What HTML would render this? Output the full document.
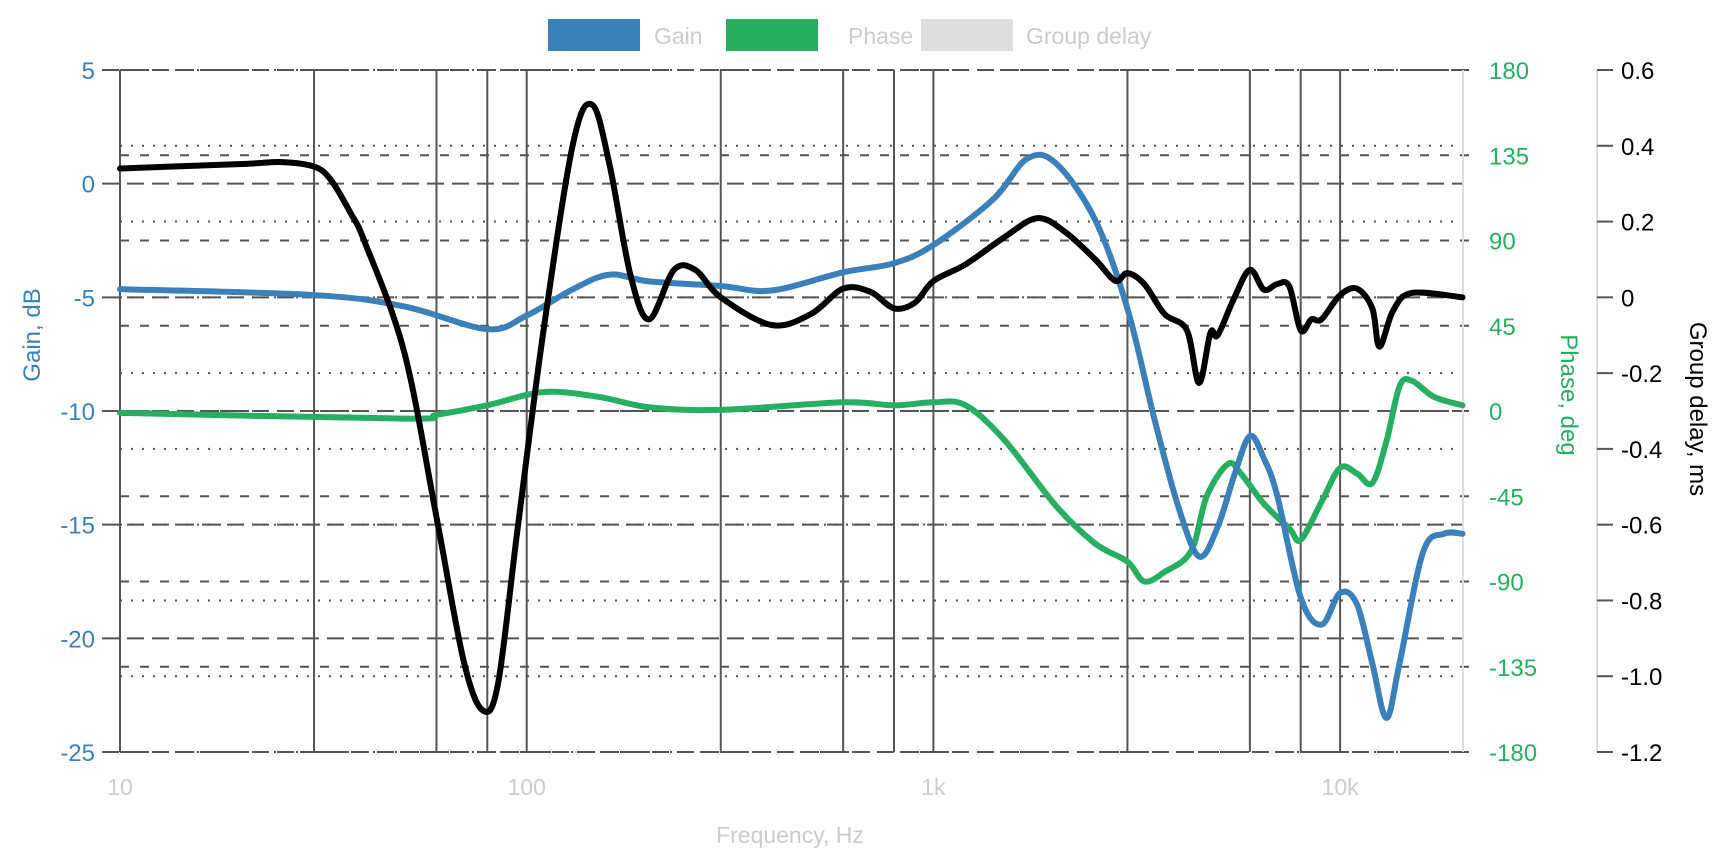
<!DOCTYPE html>
<html><head><meta charset="utf-8"><style>
html,body{margin:0;padding:0;background:#fff;}
svg{display:block;font-family:"Liberation Sans",Arial,sans-serif;}
</style></head><body>
<svg id="chart" width="1729" height="864" viewBox="0 0 1729 864"></svg>
<script>
const freqGain=[10,30,50,80,100,130,160,200,300,400,600,800,1000,1400,1700,2000,2500,3000,3500,4000,4500,5000,5500,6000,6500,7000,8000,9000,10000,11000,12000,13000,14000,16000,18000,20000];
const gainDb=[-4.64,-4.9,-5.4,-6.4,-5.8,-4.64,-4.0,-4.3,-4.5,-4.7,-3.9,-3.5,-2.7,-0.7,1.1,0.9,-1.6,-5.5,-10.4,-14.2,-16.4,-15.1,-12.8,-11.1,-12.1,-13.7,-18.2,-19.4,-18.0,-18.5,-21.1,-23.5,-21.1,-16.2,-15.4,-15.4];
const freqPhase=[10,50,60,80,110,150,200,300,600,800,1000,1200,1500,2000,2500,3000,3300,3700,4300,4700,5300,5700,6500,7500,8000,9000,10000,11000,12000,13000,14000,15000,17000,20000];
const phaseDeg=[-1,-4,-2,3,10,7.5,2,0.6,4.6,3,4.6,3,-15.7,-50,-70,-79.5,-90,-85,-74,-45,-28,-33,-49,-62,-68,-48,-30,-33,-38,-16,13,16,7.5,3];
const freqGd=[10,20,25,30,33,37,40,50,60,70,78,85,95,110,130,145,160,180,200,230,260,300,400,500,600,700,800,900,1000,1200,1500,1800,2100,2500,2800,3000,3300,3700,4200,4500,4800,5000,5500,6000,6500,7000,7500,8000,8500,9000,10000,11000,12000,12500,13500,15000,20000];
const gdMs=[0.34,0.352,0.357,0.345,0.31,0.22,0.145,-0.145,-0.58,-0.96,-1.09,-1.02,-0.61,-0.087,0.406,0.508,0.348,0.058,-0.058,0.072,0.072,0,-0.073,-0.044,0.023,0.0145,-0.029,-0.0145,0.043,0.087,0.16,0.209,0.174,0.10,0.0435,0.064,0.035,-0.044,-0.087,-0.226,-0.093,-0.1,0,0.0726,0.02,0.035,0.029,-0.087,-0.058,-0.058,0.006,0.023,-0.029,-0.13,-0.035,0.0116,0];
const gainTicks=[5,0,-5,-10,-15,-20,-25];
const phaseTicks=[180,135,90,45,0,-45,-90,-135,-180];
const gdTicks=[0.6,0.4,0.2,0,-0.2,-0.4,-0.6,-0.8,-1.0,-1.2];
const gridFreqs=[10,30,60,80,100,300,600,800,1000,3000,6000,8000,10000];
const xLabels=[[10,"10"],[100,"100"],[1000,"1k"],[10000,"10k"]];

const X0=120,DEC=406.7,Y0=70,Y1=752,XR=1463;
const x=f=>X0+Math.log10(f/10)*DEC;
const yG=v=>Y0+(5-v)/30*(Y1-Y0);
const yP=v=>Y0+(180-v)/360*(Y1-Y0);
const yD=v=>Y0+(0.6-v)/1.8*(Y1-Y0);
const svg=document.getElementById('chart');
const NS='http://www.w3.org/2000/svg';
function mk(tag,attrs,parent){const e=document.createElementNS(NS,tag);for(const k in attrs)e.setAttribute(k,attrs[k]);(parent||svg).appendChild(e);return e;}
function txt(s,attrs,name){const t=mk('text',attrs);t.textContent=s;return t;}

const grid=mk('g',{});


gridFreqs.forEach(f=>{const l=mk('line',{x1:x(f),x2:x(f),y1:Y0,y2:Y1,stroke:'#555','stroke-width':2},grid);

});
gdTicks.forEach(v=>{const l=mk('line',{x1:X0,x2:XR,y1:yD(v),y2:yD(v),stroke:'#555','stroke-width':2,'stroke-dasharray':'2 9'},grid);

});
phaseTicks.forEach(v=>{const l=mk('line',{x1:X0,x2:XR+17,y1:yP(v),y2:yP(v),stroke:'#555','stroke-width':2,'stroke-dasharray':'9 11'},grid);

});
gainTicks.forEach(v=>{const l=mk('line',{x1:X0-18,x2:XR,y1:yG(v),y2:yG(v),stroke:'#555','stroke-width':2,'stroke-dasharray':'17 8'},grid);

});
const ra=mk('line',{x1:XR,x2:XR,y1:Y0,y2:Y1,stroke:'#ddd','stroke-width':2});


const ga=mk('line',{x1:1597,x2:1597,y1:Y0,y2:Y1,stroke:'#ddd','stroke-width':2});


gdTicks.forEach(v=>{const l=mk('line',{x1:1597,x2:1613,y1:yD(v),y2:yD(v),stroke:'#555','stroke-width':2});

});

gainTicks.forEach(v=>txt(String(v),{x:95,y:yG(v)+9,'text-anchor':'end','font-size':24,fill:'#3a80ba'},'gain-tick-label'));
phaseTicks.forEach(v=>txt(String(v),{x:1489,y:yP(v)+9,'font-size':24,fill:'#27ae60'},'phase-tick-label'));
gdTicks.forEach(v=>txt(v===0?'0':v.toFixed(1),{x:1621,y:yD(v)+9,'font-size':24,fill:'#000'},'delay-tick-label'));
xLabels.forEach(([f,s])=>txt(s,{x:x(f),y:795,'text-anchor':'middle','font-size':23,fill:'#ccc'},'x-tick-label'));
txt('Frequency, Hz',{x:790,y:843,'text-anchor':'middle','font-size':23,fill:'#ccc'},'x-axis-title');
txt('Gain, dB',{x:0,y:0,'text-anchor':'middle','font-size':24,fill:'#3a80ba',transform:'translate(40,335) rotate(-90)'},'gain-axis-title');
txt('Phase, deg',{x:0,y:0,'text-anchor':'middle','font-size':24,fill:'#27ae60',transform:'translate(1561,395) rotate(90)'},'phase-axis-title');
txt('Group delay, ms',{x:0,y:0,'text-anchor':'middle','font-size':24,fill:'#000',transform:'translate(1690,409) rotate(90)'},'delay-axis-title');

function path(fs,vs,yf,color,name){
  const p=fs.map((f,i)=>[x(f),yf(vs[i])]);
  let d='M'+p[0][0]+','+p[0][1];
  for(let i=0;i<p.length-1;i++){
    const a=p[Math.max(0,i-1)],b=p[i],c=p[i+1],e=p[Math.min(p.length-1,i+2)];
    const c1=[b[0]+(c[0]-a[0])/6,b[1]+(c[1]-a[1])/6],c2=[c[0]-(e[0]-b[0])/6,c[1]-(e[1]-b[1])/6];
    d+=` C${c1[0]},${c1[1]} ${c2[0]},${c2[1]} ${c[0]},${c[1]}`;
  }
  const el=mk('path',{d:d,fill:'none',stroke:color,'stroke-width':6,'stroke-linejoin':'round','stroke-linecap':'round'});
  
  
}
path(freqPhase,phaseDeg,yP,'#27ae60','phase-line');
path(freqGain,gainDb,yG,'#3a80ba','gain-line');
path(freqGd,gdMs,yD,'#000','group-delay-line');

const legend=[['Gain','#3a80ba',548,654],['Phase','#27ae60',726,848],['Group delay','#dddddd',921,1026]];
legend.forEach(([s,c,bx,tx])=>{
  const g=mk('g',{});
  
  
  mk('rect',{x:bx,y:19,width:92,height:32,fill:c},g);
  const t=mk('text',{x:tx,y:44,'font-size':23,fill:'#ccc'},g);t.textContent=s;
});
</script>
</body></html>
